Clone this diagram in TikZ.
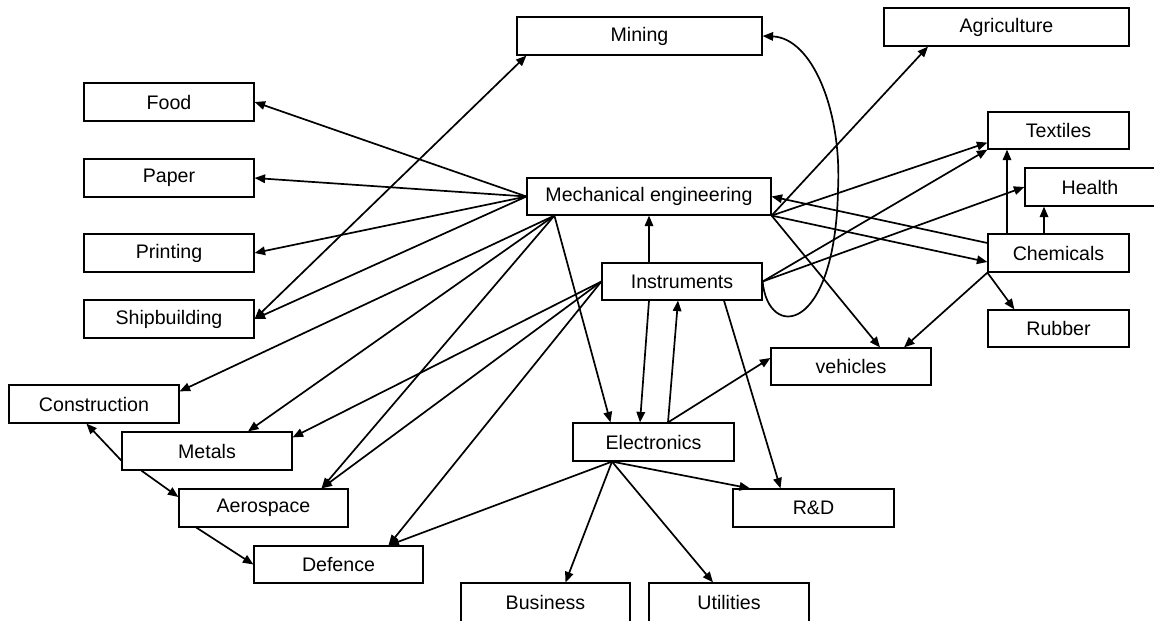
\documentclass[tikz,border=0pt]{standalone}
\usepackage{fontspec}
\setmainfont{Liberation Sans}
\usetikzlibrary{arrows.meta,calc}
\begin{document}
\begin{tikzpicture}[x=1pt,y=-1pt,
  box/.style={draw=black,line width=1.2pt,fill=white,inner sep=0pt,
    font=\fontsize{19.6}{23.5}\selectfont},
  arr/.style={line width=1.7pt,-{Triangle[length=10.5pt,width=8.5pt]}},
  dbl/.style={line width=1.7pt,{Triangle[length=10.5pt,width=8.5pt]}-{Triangle[length=10.5pt,width=8.5pt]}}]
\fill[white] (0,0) rectangle (1154,621);
\useasboundingbox (0,0) rectangle (1154,621);
% nodes
\node[box,minimum width=245pt,minimum height=38pt] (mining) at (639.5,36) {Mining};
\node[box,minimum width=245pt,minimum height=38pt] (agri) at (1006.5,27) {Agriculture};
\node[box,minimum width=170pt,minimum height=38pt] (food) at (169,102) {Food};
\node[box,minimum width=170pt,minimum height=38pt] (paper) at (169,178) {Paper};
\node[box,minimum width=170pt,minimum height=38pt] (printing) at (169,253) {Printing};
\node[box,minimum width=170pt,minimum height=38pt] (ship) at (169,319) {Shipbuilding};
\node[box,minimum width=244pt,minimum height=37pt] (mech) at (649,196.5) {Mechanical engineering};
\node[box,minimum width=141pt,minimum height=37pt] (textiles) at (1058.5,130.5) {Textiles};
\node[box,minimum width=140pt,minimum height=38pt] (health) at (1095,187) {\hspace*{-10pt}Health};
\node[box,minimum width=141pt,minimum height=38pt] (chem) at (1058.5,253) {Chemicals};
\node[box,minimum width=141pt,minimum height=37pt] (rubber) at (1058.5,328.5) {Rubber};
\node[box,minimum width=160pt,minimum height=37pt] (inst) at (682,281.5) {Instruments};
\node[box,minimum width=160pt,minimum height=37pt] (vehicles) at (851,366.5) {vehicles};
\node[box,minimum width=170pt,minimum height=38pt] (construction) at (94,404) {Construction};
\node[box,minimum width=170pt,minimum height=38pt] (metals) at (207,451) {Metals};
\node[box,minimum width=169pt,minimum height=38pt] (aero) at (263.5,508) {Aerospace};
\node[box,minimum width=169pt,minimum height=37pt] (defence) at (338.5,564.5) {Defence};
\node[box,minimum width=161pt,minimum height=38pt] (elec) at (653.5,442) {Electronics};
\node[box,minimum width=161pt,minimum height=38pt] (rd) at (813.5,508) {R\&D};
\node[box,minimum width=169pt,minimum height=39pt] (business) at (545.5,602.5) {Business};
\node[box,minimum width=160pt,minimum height=39pt] (utilities) at (729,602.5) {Utilities};
% anchor points
\coordinate (mechSW) at ($(mech.south west)+(28,0)$);
\coordinate (elecS) at ($(elec.south)+(-41.5,0)$);
\coordinate (elecN) at ($(elec.north)+(14.5,0)$);
% connectors from Mechanical engineering
\draw[arr] (mech.west) -- (food.east);
\draw[arr] (mech.west) -- (paper.east);
\draw[arr] (mech.west) -- (printing.east);
\draw[arr] (mech.west) -- (ship.east);
\draw[dbl] (ship.east) -- ($(mining.south west)+(10,0)$);
\draw[arr] (mechSW) -- ($(construction.north east)+(0,7)$);
\draw[arr] (mechSW) -- ($(metals.north)+(41,0)$);
\draw[arr] (mechSW) -- ($(aero.north)+(58,0)$);
\draw[arr] (mechSW) -- ($(elec.north)+(-43,0)$);
\draw[arr] (mech.south east) -- ($(agri.south)+(-78.5,0)$);
\draw[arr] (mech.south east) -- ($(textiles.south west)+(0,-7)$);
\draw[arr] (mech.south east) -- ($(chem.west)+(0,9)$);
\draw[arr] (mech.south east) -- ($(vehicles.north)+(29,0)$);
% Instruments
\draw[arr] (inst.west) -- ($(metals.north east)+(0,6)$);
\draw[arr] (inst.west) -- ($(aero.north)+(58,0)$);
\draw[arr] (inst.west) -- ($(defence.north)+(50,0)$);
\draw[arr] ($(inst.north)+(-33,0)$) -- (mech.south);
\draw[arr] ($(inst.south)+(-33,0)$) -- ($(elec.north)+(-13.5,0)$);
\draw[arr] ($(inst.south)+(42,0)$) -- ($(rd.north)+(-33,0)$);
\draw[arr] (inst.east) -- (textiles.south west);
\draw[arr] (inst.east) -- (health.west);
\draw[arr] (inst.east) .. controls (768,340) and (835,335) .. (838,190)
  .. controls (842,110) and (812,38) .. (mining.east);
% Electronics
\draw[arr] (elecN) -- ($(inst.south)+(-4,0)$);
\draw[arr] (elecN) -- ($(vehicles.west)+(0,-8.5)$);
\draw[arr] (elecS) -- ($(defence.north)+(50,0)$);
\draw[arr] (elecS) -- ($(business.north)+(20,0)$);
\draw[arr] (elecS) -- ($(utilities.north)+(-16,0)$);
\draw[arr] (elecS) -- ($(rd.north)+(-63.5,0)$);
% lower left chain
\draw[arr] ($(metals.south west)+(0,-10)$) -- ($(construction.south west)+(78,0)$);
\draw[arr] ($(metals.south west)+(20,0)$) -- ($(aero.west)+(0,-11)$);
\draw[arr] ($(aero.south west)+(18,0)$) -- (defence.west);
% Chemicals
\draw[arr] ($(chem.west)+(0,-10)$) -- (mech.east);
\draw[arr] (chem.south west) -- ($(vehicles.north)+(53,0)$);
\draw[arr] (chem.south west) -- ($(rubber.north west)+(27,0)$);
\draw[arr] ($(chem.north)+(-51.5,0)$) -- ($(textiles.south)+(-51.5,0)$);
\draw[arr] ($(chem.north)+(-14.5,0)$) -- ($(health.south)+(-51,0)$);
\end{tikzpicture}
\end{document}
